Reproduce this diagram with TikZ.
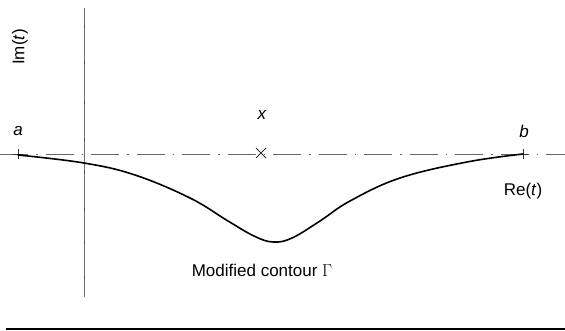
\documentclass[tikz,border=0pt]{standalone}
\usepackage{fontspec}
\setmainfont{Liberation Sans}
\usetikzlibrary{calc}
\begin{document}
\begin{tikzpicture}[x=1pt,y=-1pt,
  lbl/.style={font=\fontsize{17}{19}\selectfont, inner sep=0pt},
  axisline/.style={draw=black!55, line width=0.9pt},
  dashaxis/.style={draw=black!60, line width=0.9pt, dash pattern=on 28pt off 8pt on 1.5pt off 8pt},
  contour/.style={draw=black, line width=1.6pt, line join=round, line cap=round},
  marker/.style={draw=black!80, line width=0.8pt}]
\useasboundingbox (0,0) rectangle (565,331);
% axes
\coordinate (vtop) at (84,8);
\coordinate (vbot) at (84,297);
\coordinate (hl) at (0,154);
\coordinate (hr) at (565,154);
\draw[axisline] (vtop) -- (vbot);
\foreach \yy in {27,63,103,140,173,210,243,277}
  \draw[black!70, line width=1pt] (84,\yy-1.5) -- (84,\yy+1.5);
\draw[dashaxis] (hl) -- (hr);
% bottom rule
\coordinate (bl) at (6,329);
\coordinate (br) at (565,329);
\draw[black, line width=1.6pt] (bl) -- (br);
% points
\coordinate (A) at (18,154);
\coordinate (B) at (523,154);
\coordinate (X) at (261,153);
\draw[marker] ($(A)+(-5,0)$) -- ($(A)+(5,0)$) ($(A)+(0,-5)$) -- ($(A)+(0,5)$);
\draw[marker] ($(B)+(-5,0)$) -- ($(B)+(5,0)$) ($(B)+(0,-5)$) -- ($(B)+(0,5)$);
\draw[marker] ($(X)+(-5,-5)$) -- ($(X)+(5,5)$) ($(X)+(-5,5)$) -- ($(X)+(5,-5)$);
% contour
\draw[contour] plot[smooth, tension=0.65] coordinates {(18,155) (84,163) (135,175) (190,198) (228,221) (254,236) (273,242) (292,238) (320,221) (350,201) (400,178) (467,162) (523,154)};
% labels
\node[lbl] (la) at (18,131) {\textit{a}};
\node[lbl] (lb) at (524,131) {\textit{b}};
\node[lbl] (lx) at (262,115) {\textit{x}};
\node[lbl] (lre) at (523,191) {Re(\textit{t})};
\node[lbl, rotate=90] (lim) at (20,47) {Im(\textit{t})};
\node[lbl] (lmod) at (262,270) {Modified contour $\Gamma$};
\end{tikzpicture}
\end{document}
